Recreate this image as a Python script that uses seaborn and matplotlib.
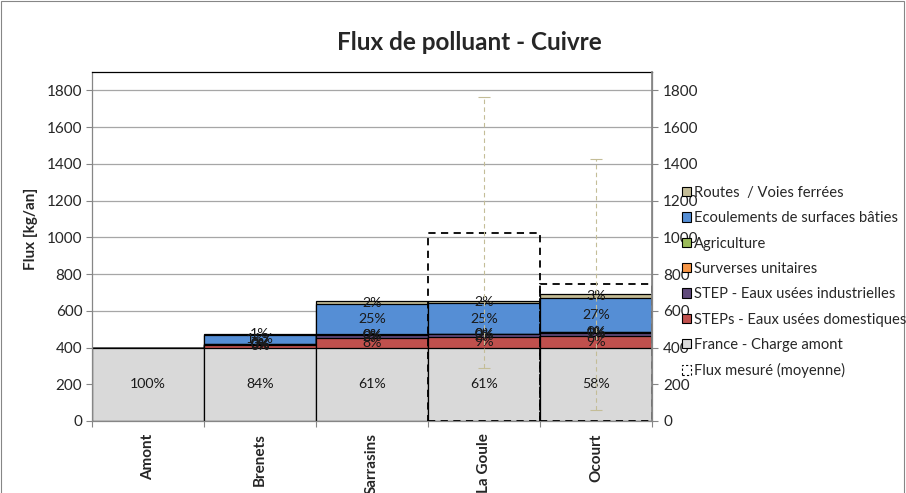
import numpy as np
import matplotlib
matplotlib.use("Agg")
import matplotlib.pyplot as plt
from matplotlib.patches import Patch, Rectangle
import seaborn as sns

# ---------------- data ----------------
categories = ["Amont", "Brenets", "Sarrasins", "La Goule", "Ocourt"]
france = [400, 400, 400, 400, 400]
steps_dom = [0, 14, 54, 58, 63]
step_ind = [0, 2, 12, 14, 16]
surverses = [0, 1, 3, 3, 4]
agriculture = [0, 1, 2, 1, 2]
ecoulements = [0, 52, 166, 164, 186]
routes = [0, 5, 15, 14, 21]
measured = [np.nan, np.nan, np.nan, 1025, 745]
measured_err = [np.nan, np.nan, np.nan, 738, 683]
yticks = [0, 200, 400, 600, 800, 1000, 1200, 1400, 1600, 1800]

layer_names = ["France - Charge amont", "STEPs - Eaux usées domestiques",
               "STEP - Eaux usées industrielles", "Surverses unitaires",
               "Agriculture", "Ecoulements de surfaces bâties",
               "Routes  / Voies ferrées"]
layer_vals = [france, steps_dom, step_ind, surverses, agriculture, ecoulements, routes]
layer_colors = ["#d9d9d9", "#c0504d", "#604a7b", "#f79646", "#9bbb59", "#558ed5", "#c4bd97"]

# ---------------- style ----------------
sns.set_theme(style="white")
plt.rcParams["font.family"] = ["Lato", "DejaVu Sans"]

fig = plt.figure(figsize=(9.06, 4.93), dpi=100)
ax = fig.add_axes([92 / 906, 1 - 421 / 493, 560 / 906, (421 - 72) / 493])

vals = np.array(layer_vals, dtype=float)
cum = np.cumsum(vals, axis=0)
totals = cum[-1]

# stacked bars drawn from top layer down (cumulative heights)
for i in range(len(layer_vals) - 1, -1, -1):
    sns.barplot(x=categories, y=list(cum[i]), order=categories, color=layer_colors[i],
                saturation=1, width=1.0, edgecolor="black", linewidth=0.9,
                ax=ax, zorder=2)

# percentage labels
for i in range(len(layer_vals)):
    for j in range(len(categories)):
        v = vals[i, j]
        if v > 0:
            pct = int(v / totals[j] * 100 + 0.5)
            yc = cum[i, j] - v / 2
            ax.text(j, yc, f"{pct}%", ha="center", va="center", fontsize=10.2,
                    color="#1a1a1a", zorder=5)

# measured flux: dashed empty boxes
n_before = len(ax.patches)
sns.barplot(x=categories, y=measured, order=categories, fill=False, color="black",
            width=1.0, linewidth=1.3, ax=ax, zorder=4)
for p in ax.patches[n_before:]:
    p.set_linestyle((0, (4, 3)))
    p.set_edgecolor("black")
    p.set_facecolor("none")
    p.set_zorder(4)

# error bars of measured flux
xpos = np.arange(len(categories))
mask = ~np.isnan(np.array(measured, dtype=float))
eb = ax.errorbar(xpos[mask], np.array(measured)[mask], yerr=np.array(measured_err)[mask],
                 fmt="none", ecolor="#c4bd97", elinewidth=0.8, capsize=4, capthick=0.8,
                 zorder=6)
eb[2][0].set_linestyle((0, (4, 3)))

# axes
ax.set_xlim(-0.5, len(categories) - 0.5)
ax.set_ylim(0, 1900)
ax.set_yticks(yticks)
ax.set_yticklabels([str(t) for t in yticks], fontsize=11)
ax.yaxis.grid(True, color="#a6a6a6", linewidth=0.9, zorder=0)
ax.set_axisbelow(True)
ax.set_xticks(xpos)
ax.set_xticklabels(categories, rotation=90, fontsize=11, fontweight="bold")
ax.set_xticks(np.arange(len(categories) + 1) - 0.5, minor=True)
ax.tick_params(axis="x", which="major", length=0, pad=9)
ax.tick_params(axis="x", which="minor", length=4, color="#868686", width=0.8, direction="out", bottom=True)
ax.tick_params(axis="y", length=4, color="#868686", width=0.8, direction="out", left=True, pad=3)
ax.set_xlabel("")
ax.set_ylabel("Flux [kg/an]", fontsize=11, fontweight="bold")
ax.yaxis.set_label_coords((38 - 92) / 560, (421 - 229) / 349)
for s in ["left", "right", "bottom"]:
    ax.spines[s].set_color("#868686")
    ax.spines[s].set_linewidth(0.9)
ax.spines["top"].set_color("black")
ax.spines["top"].set_linewidth(0.9)

ax2 = ax.twinx()
ax2.set_ylim(0, 1900)
ax2.set_yticks(yticks)
ax2.set_yticklabels([str(t) for t in yticks], fontsize=11)
ax2.tick_params(axis="y", length=4, color="#868686", width=0.8, direction="out", right=True, pad=4)
for s in ax2.spines.values():
    s.set_visible(False)
ax2.spines["right"].set_visible(True)
ax2.spines["right"].set_color("#868686")
ax2.grid(False)

# title
fig.text(469 / 906, 1 - 42 / 493, "Flux de polluant - Cuivre", ha="center", va="center",
         fontsize=17.5, fontweight="bold")

# legend
handles = []
for i in range(len(layer_vals) - 1, -1, -1):
    handles.append(Patch(facecolor=layer_colors[i], edgecolor="black", linewidth=0.8,
                         label=layer_names[i]))
handles.append(Patch(facecolor="none", edgecolor="black", linewidth=0.8,
                     linestyle=(0, (2, 2)), label="Flux mesuré (moyenne)"))
fig.legend(handles=handles, loc="upper left", bbox_to_anchor=(676 / 906, 1 - 180 / 493),
           frameon=False, fontsize=10.6, handlelength=0.6, handleheight=0.6,
           handletextpad=0.25, labelspacing=0.77, borderaxespad=0)

# chart border
fig.patches.append(Rectangle((0.001, -0.01), 0.997, 1.008, transform=fig.transFigure,
                             fill=False, edgecolor="#868686", linewidth=0.8))

fig.savefig("out.png", dpi=100)
